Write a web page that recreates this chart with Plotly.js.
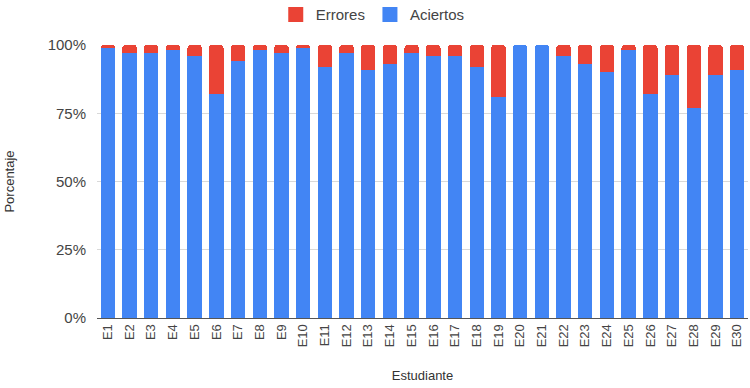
<!DOCTYPE html>
<html>
<head>
<meta charset="utf-8">
<script src="https://cdn.plot.ly/plotly-3.0.1.min.js"></script>
<style>
  html, body { margin: 0; padding: 0; background: #fff; }
  #chart { width: 750px; height: 388px; }
</style>
</head>
<body>
<div id="chart"></div>
<script>
// Students and their share of correct answers / errors (percent)
const estudiantes = ['E1','E2','E3','E4','E5','E6','E7','E8','E9','E10',
  'E11','E12','E13','E14','E15','E16','E17','E18','E19','E20',
  'E21','E22','E23','E24','E25','E26','E27','E28','E29','E30'];
const aciertos = [99, 97, 97, 98, 96, 82, 94, 98, 97, 99,
  92, 97, 91, 93, 97, 96, 96, 92, 81, 100,
  100, 96, 93, 90, 98, 82, 89, 77, 89, 91];
const errores = [1, 3, 3, 2, 4, 18, 6, 2, 3, 1,
  8, 3, 9, 7, 3, 4, 4, 8, 19, 0,
  0, 4, 7, 10, 2, 18, 11, 23, 11, 9];
const yTicks = [0, 25, 50, 75, 100];

const colorAciertos = '#4285F4';
const colorErrores = '#EA4335';

const traces = [
  { type: 'bar', name: 'Aciertos', x: estudiantes, y: aciertos,
    marker: { color: colorAciertos }, showlegend: false, hoverinfo: 'x+y+name' },
  { type: 'bar', name: 'Errores', x: estudiantes, y: errores,
    marker: { color: colorErrores }, showlegend: false, hoverinfo: 'x+y+name' },
  // square legend keys
  { type: 'scatter', mode: 'markers', name: 'Errores', x: [null], y: [null],
    marker: { symbol: 'square', size: 15, color: colorErrores } },
  { type: 'scatter', mode: 'markers', name: 'Aciertos', x: [null], y: [null],
    marker: { symbol: 'square', size: 15, color: colorAciertos } }
];

const layout = {
  width: 750, height: 388,
  margin: { l: 97, r: 2, t: 45, b: 70, autoexpand: false },
  paper_bgcolor: '#fff', plot_bgcolor: '#fff',
  barmode: 'stack',
  bargap: 0.34,
  barcornerradius: 3,
  font: { family: 'Liberation Sans, Arial, sans-serif', size: 13, color: '#444' },
  showlegend: true,
  legend: {
    orientation: 'h', traceorder: 'normal',
    xref: 'container', yref: 'container',
    x: 0.497, xanchor: 'center', y: 0.962, yanchor: 'middle',
    font: { size: 15, color: '#444' }
  },
  xaxis: {
    type: 'category',
    automargin: false,
    tickangle: -90,
    tickfont: { size: 13, color: '#444' },
    showgrid: false,
    showline: true, linecolor: '#555', linewidth: 1,
    ticks: '',
    title: { text: 'Estudiante', font: { size: 13, color: '#333' }, standoff: 24 }
  },
  yaxis: {
    automargin: false,
    range: [0, 100],
    tickvals: yTicks,
    ticktext: yTicks.map(v => v + '%'),
    tickfont: { size: 15, color: '#444' },
    ticklabelstandoff: 10,
    gridcolor: '#d9d9d9',
    zeroline: false,
    ticks: '',
    title: { text: 'Porcentaje', font: { size: 13, color: '#333' }, standoff: 30 }
  }
};

Plotly.newPlot('chart', traces, layout, { displayModeBar: false, staticPlot: true });
</script>
</body>
</html>
